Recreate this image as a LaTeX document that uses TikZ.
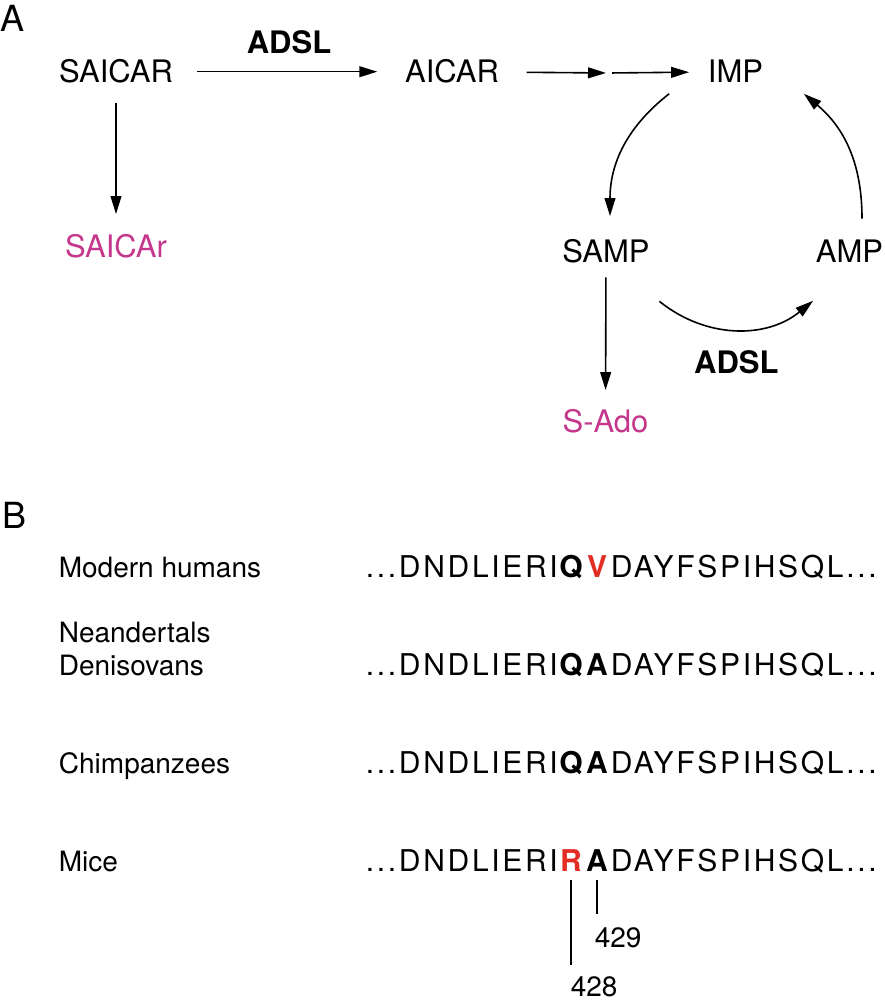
\documentclass[tikz,border=0pt]{standalone}
\usepackage{fontspec}
\setmainfont{TeX Gyre Heros}
\newfontfamily\seqfont[LetterSpace=9]{TeX Gyre Heros}
\usetikzlibrary{arrows.meta}
\definecolor{prodpink}{RGB}{196,55,140}
\definecolor{mutred}{RGB}{225,45,35}
\newcommand{\mutres}[1]{\textcolor{mutred}{#1}}

\begin{document}
\begin{tikzpicture}[x = 0.5pt, y = 0.5pt, line width = 0.8pt,
	met/.style = {inner sep = 0pt, font = \fontsize{15.5}{18}\selectfont},
	prod/.style = {met, text = prodpink},
	enz/.style = {inner sep = 0pt, font = \fontsize{15.5}{18}\selectfont\bfseries},
	panel/.style = {inner sep = 0pt, anchor = base west, font = \fontsize{18}{21}\selectfont},
	species/.style = {inner sep = 0pt, anchor = base west, font = \fontsize{14}{17}\selectfont},
	seq/.style = {inner sep = 0pt, font = \fontsize{15}{18}\seqfont},
	res/.style = {seq, anchor = base, font = \fontsize{15}{18}\seqfont\bfseries},
	num/.style = {inner sep = 0pt, anchor = base west, font = \fontsize{14}{17}\selectfont},
	arr/.style = {-{Triangle[length = 9pt, width = 5.4pt]}}]
	\useasboundingbox (0, 0) rectangle (884, -1000);

	% panel A
	\node [panel] (labA) at (0, -32) {A};
	\node [met, anchor = base] (SAICAR) at (116, -83) {SAICAR};
	\node [met, anchor = base] (AICAR) at (452, -83) {AICAR};
	\node [met, anchor = base] (IMP) at (735.5, -83) {IMP};
	\node [prod, anchor = base] (SAICAr) at (116, -257) {SAICAr};
	\node [met, anchor = base] (SAMP) at (606, -263) {SAMP};
	\node [met, anchor = base] (AMP) at (849.5, -263) {AMP};
	\node [prod, anchor = base] (SAdo) at (605.5, -432) {S-Ado};
	\coordinate (step) at (609, -73);

	\draw [arr, shorten <= 11.5pt, shorten >= 13.5pt] (SAICAR) -- node [enz, above = 8.5pt] {ADSL} (AICAR);
	\draw [arr, shorten <= 13.5pt, shorten >= 1.5pt] (AICAR) -- (step);
	\draw [arr, shorten <= 1.5pt, shorten >= 9pt] (step) -- (IMP);
	\draw [arr, shorten <= 9.5pt, shorten >= 9.5pt] (SAICAR) -- (SAICAr);
	\draw [arr, shorten <= 6.5pt, shorten >= 9pt] (SAMP) -- (SAdo);
	\draw [arr] ([shift = {(-38, -10)}]IMP.south west) to [out = 218, in = 90] ([shift = {(4, 23)}]SAMP.north);
	\draw [arr] ([shift = {(12.5, 21)}]AMP.north) to [out = 90, in = -40] ([shift = {(40, -10)}]IMP.south east);
	\draw [arr] ([shift = {(9, -37)}]SAMP.south east) to [bend right = 39] node [enz, below = 10pt] {ADSL} ([shift = {(-2, -37)}]AMP.south west);

	% panel B
	\node [panel] (labB) at (2, -528) {B};
	\node [species] (nea) at (58, -642) {Neandertals};
	\foreach \row/\yb/\spec/\resA/\resB in {hum/577/Modern humans/Q/{\mutres{V}}, den/675/Denisovans/Q/A, chi/773/Chimpanzees/Q/A, mic/871/Mice/{\mutres{R}}/A} {
		\node [species] (\row lbl) at (58, -\yb) {\spec};
		\node [seq, anchor = base west] (\row pre) at (365, -\yb) {...DNDLIERI};
		\node [res] (\row 428) at (571, -\yb) {\resA};
		\node [res] (\row 429) at (597, -\yb) {\resB};
		\node [seq, anchor = base west] (\row post) at (610, -\yb) {DAYFSPIHSQL...};
	}

	\node [num] (n429) at (594, -947) {429};
	\node [num] (n428) at (570, -996) {428};
	\draw [shorten <= 4pt, shorten >= 5pt] (mic428.south) -- (mic428.south |- n428.north);
	\draw [shorten <= 4pt, shorten >= 6pt] (mic429.south) -- (mic429.south |- n429.north);
\end{tikzpicture}
\end{document}
